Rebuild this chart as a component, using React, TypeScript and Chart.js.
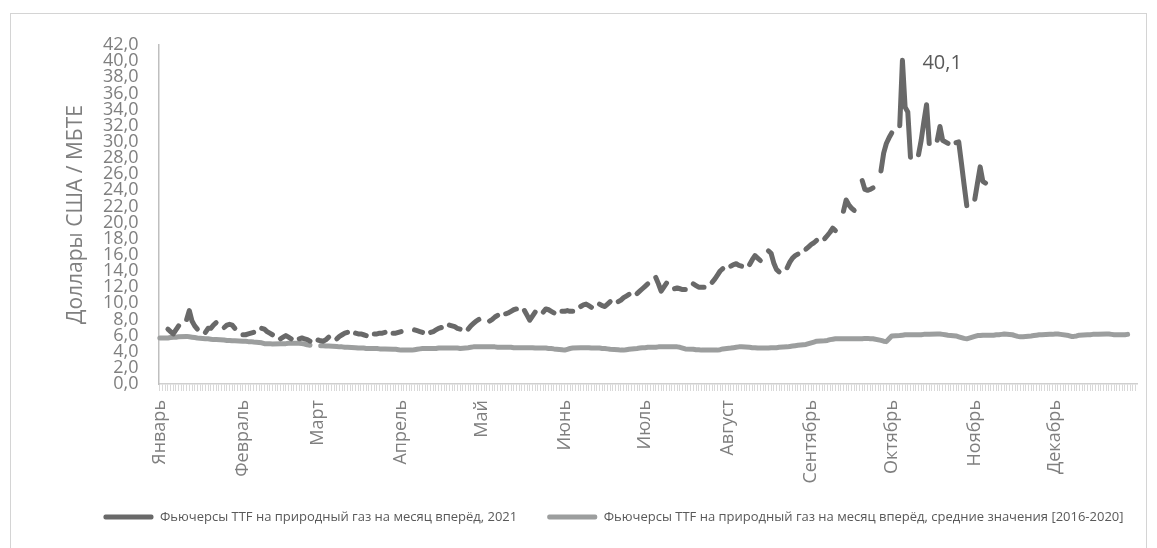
import React, { useEffect, useRef } from 'react';
import { Chart, registerables } from 'chart.js';

Chart.register(...registerables);

// ---------- DATA ----------
const monthNames = ['Январь', 'Февраль', 'Март', 'Апрель', 'Май', 'Июнь', 'Июль', 'Август', 'Сентябрь', 'Октябрь', 'Ноябрь', 'Декабрь'];
const monthStartDays = [0, 31, 59, 90, 120, 151, 181, 212, 243, 273, 304, 334];
const daysInYear = 365;

const seriesLabels = [
  'Фьючерсы TTF на природный газ на месяц вперёд, 2021',
  'Фьючерсы TTF на природный газ на месяц вперёд, средние значения [2016-2020]',
];

// 2021: value for Fri 1 Jan, then Mon..Fri weeks starting Mon 4 Jan (null = no quote)
const ttf2021Jan1: number | null = null;
const ttf2021Weeks: (number | null)[][] = [
  [6.8, 6.5, 6.2, 6.7, 7.2],
  [8.0, 9.1, 7.8, 7.2, 6.8],
  [6.4, 6.9, 6.9, 7.3, 7.6],
  [7.0, 7.3, 7.4, 7.3, 6.9],
  [6.1, 6.1, 6.2, 6.3, 6.4],
  [6.9, 6.8, 6.5, 6.3, 6.1],
  [5.6, 5.8, 6.0, 5.8, 5.6],
  [5.6, 5.7, 5.6, 5.5, 5.3],
  [5.45, 5.35, 5.3, 5.5, 5.8],
  [5.6, 5.9, 6.1, 6.3, 6.4],
  [6.3, 6.2, 6.2, 6.1, 6.0],
  [6.2, 6.2, 6.3, 6.3, 6.4],
  [6.3, 6.3, 6.4, 6.5, null],
  [null, 6.7, 6.6, 6.5, 6.4],
  [6.4, 6.5, 6.7, 6.9, 7.0],
  [7.3, 7.2, 7.1, 6.9, 6.8],
  [6.8, 7.2, 7.5, 7.8, 8.0],
  [null, 7.8, 8.0, 8.3, 8.5],
  [8.7, 8.8, 9.0, 9.2, 9.3],
  [9.1, 8.5, 7.9, 8.4, 8.9],
  [8.9, 9.3, 9.2, 9.0, 8.8],
  [9.0, 9.0, 9.1, 9.0, 9.0],
  [9.6, 9.8, 9.9, 9.7, 9.5],
  [9.9, 9.7, 9.6, 9.9, 10.2],
  [10.2, 10.4, 10.7, 10.9, 11.1],
  [11.2, 11.5, 11.8, 12.1, 12.4],
  [13.2, 12.4, 11.5, 12.0, 12.5],
  [11.8, 11.9, 11.8, 11.7, 11.7],
  [12.4, 12.2, 12.0, 12.0, 12.0],
  [12.6, 13.0, 13.5, 14.0, 14.3],
  [14.6, 14.8, 14.9, 14.7, 14.6],
  [14.8, 15.4, 15.9, 15.6, 15.3],
  [16.5, 16.2, 15.0, 14.2, 13.9],
  [14.4, 15.1, 15.6, 15.9, 16.1],
  [16.7, 17.0, 17.3, 17.5, 17.8],
  [18.0, 18.4, 18.8, 19.3, 19.0],
  [21.4, 22.8, 22.2, 21.8, 21.5],
  [25.2, 24.1, 24.0, 24.1, 24.3],
  [26.4, 28.6, 29.8, 30.5, 31.1],
  [32.0, 40.1, 34.3, 33.7, 28.1],
  [28.4, 30.2, 32.5, 34.6, 29.8],
  [30.2, 31.9, 30.2, 30.0, 29.8],
  [29.9, 30.0, 27.4, 24.7, 22.1],
  [22.9, 24.9, 26.9, 25.1, 24.9],
];

// 2016-2020 average: Fri 1 Jan, then Mon..Fri weeks from Mon 4 Jan
const avgJan1: number | null = 5.7;
const avgWeeks: (number | null)[][] = [
  [5.7, 5.75, 5.8, 5.8, 5.85],
  [5.9, 5.85, 5.8, 5.75, 5.7],
  [5.6, 5.6, 5.55, 5.5, 5.5],
  [5.45, 5.4, 5.4, 5.35, 5.35],
  [5.3, 5.3, 5.25, 5.25, 5.2],
  [5.1, 5.0, 5.0, 5.0, 4.95],
  [5.0, 5.0, 5.0, 5.05, 5.05],
  [5.05, 5.0, 4.95, 4.85, 4.8],
  [null, 4.75, 4.75, 4.7, 4.7],
  [4.65, 4.6, 4.6, 4.55, 4.55],
  [4.5, 4.45, 4.45, 4.45, 4.4],
  [4.4, 4.4, 4.35, 4.35, 4.35],
  [4.3, 4.3, 4.25, 4.2, 4.2],
  [4.2, 4.25, 4.3, 4.35, 4.4],
  [4.4, 4.4, 4.4, 4.45, 4.45],
  [4.45, 4.45, 4.45, 4.45, 4.4],
  [4.5, 4.55, 4.6, 4.6, 4.6],
  [4.6, 4.6, 4.6, 4.6, 4.55],
  [4.55, 4.55, 4.55, 4.5, 4.5],
  [4.5, 4.5, 4.5, 4.5, 4.45],
  [4.45, 4.45, 4.4, 4.4, 4.35],
  [4.25, 4.2, 4.3, 4.4, 4.45],
  [4.5, 4.5, 4.5, 4.5, 4.45],
  [4.45, 4.4, 4.4, 4.35, 4.3],
  [4.25, 4.2, 4.2, 4.25, 4.3],
  [4.4, 4.45, 4.5, 4.5, 4.55],
  [4.55, 4.6, 4.6, 4.6, 4.6],
  [4.6, 4.6, 4.55, 4.45, 4.35],
  [4.3, 4.25, 4.25, 4.2, 4.2],
  [4.2, 4.2, 4.2, 4.25, 4.35],
  [4.45, 4.5, 4.55, 4.6, 4.6],
  [4.55, 4.5, 4.5, 4.45, 4.45],
  [4.45, 4.5, 4.5, 4.5, 4.55],
  [4.6, 4.65, 4.7, 4.75, 4.8],
  [4.9, 5.0, 5.1, 5.2, 5.3],
  [5.35, 5.4, 5.5, 5.55, 5.6],
  [5.6, 5.6, 5.6, 5.6, 5.6],
  [5.6, 5.65, 5.65, 5.6, 5.6],
  [5.4, 5.3, 5.25, 5.6, 5.95],
  [6.0, 6.05, 6.1, 6.1, 6.1],
  [6.1, 6.1, 6.15, 6.15, 6.15],
  [6.2, 6.2, 6.15, 6.1, 6.05],
  [5.95, 5.85, 5.75, 5.65, 5.6],
  [5.9, 6.0, 6.0, 6.05, 6.05],
  [6.05, 6.1, 6.1, 6.15, 6.2],
  [6.1, 6.0, 5.9, 5.85, 5.85],
  [5.95, 6.0, 6.05, 6.1, 6.1],
  [6.15, 6.15, 6.2, 6.2, 6.15],
  [6.0, 5.9, 5.9, 5.95, 6.05],
  [6.1, 6.1, 6.15, 6.15, 6.15],
  [6.2, 6.2, 6.15, 6.1, 6.1],
  [6.1, 6.15, null, null, null],
];

const yMin = 0;
const yMax = 42;
const yStep = 2;

// ---------- BUILD TABLES ----------
const categories: string[] = Array.from({ length: daysInYear }, (_, i) => {
  const d = new Date(Date.UTC(2021, 0, 1 + i));
  return String(d.getUTCDate()).padStart(2, '0') + '.' + String(d.getUTCMonth() + 1).padStart(2, '0');
});

function toDaily(first: number | null, weeks: (number | null)[][]): (number | null)[] {
  const out: (number | null)[] = new Array(daysInYear).fill(null);
  out[0] = first;
  weeks.forEach((w, k) => {
    w.forEach((v, d) => {
      const i = 3 + 7 * k + d;
      if (i < daysInYear) out[i] = v;
    });
  });
  return out;
}

const ttf2021Daily = toDaily(ttf2021Jan1, ttf2021Weeks);
const avgDaily = toDaily(avgJan1, avgWeeks);
const avgPoints = avgDaily
  .map((v, i) => (v === null ? null : { x: categories[i], y: v }))
  .filter((p) => p !== null) as { x: string; y: number }[];

const monthLabelAt: Record<number, string> = {};
monthStartDays.forEach((d, m) => (monthLabelAt[d] = monthNames[m]));

const fmt = (v: number) => v.toFixed(1).replace('.', ',');

const FONT = '"Open Sans", "DejaVu Sans", sans-serif';

const peakPlugin = {
  id: 'peakLabel',
  afterDatasetsDraw(chart: any) {
    let peakIdx = 0;
    ttf2021Daily.forEach((v, i) => {
      if (v !== null && v > (ttf2021Daily[peakIdx] ?? -Infinity)) peakIdx = i;
    });
    const val = ttf2021Daily[peakIdx] as number;
    const x = chart.scales.x.getPixelForValue(peakIdx);
    const y = chart.scales.y.getPixelForValue(val);
    const ctx = chart.ctx;
    ctx.save();
    ctx.font = `20px ${FONT}`;
    ctx.fillStyle = '#595959';
    ctx.textBaseline = 'middle';
    ctx.textAlign = 'left';
    ctx.fillText(fmt(val), x + 20, y + 3);
    ctx.restore();
  },
};

const legendShiftPlugin = {
  id: 'legendShift',
  afterLayout(chart: any) {
    if (chart.legend) {
      chart.legend.left += 35;
      chart.legend.right += 35;
      chart.legend.top -= 7.5;
      chart.legend.bottom -= 7.5;
    }
  },
};

export default function App() {
  const ref = useRef<HTMLCanvasElement>(null);

  useEffect(() => {
    if (!ref.current) return;
    const chart = new Chart(ref.current, {
      type: 'line',
      data: {
        labels: categories,
        datasets: [
          {
            label: seriesLabels[0],
            data: ttf2021Daily,
            borderColor: '#696969',
            backgroundColor: '#696969',
            borderWidth: 5,
            pointRadius: 0,
            pointHoverRadius: 0,
            spanGaps: false,
            borderCapStyle: 'round',
            borderJoinStyle: 'round',
            tension: 0,
          },
          {
            label: seriesLabels[1],
            data: avgPoints as any,
            borderColor: '#9c9e9e',
            backgroundColor: '#9c9e9e',
            borderWidth: 5,
            pointRadius: 0,
            pointHoverRadius: 0,
            spanGaps: 3,
            borderCapStyle: 'round',
            borderJoinStyle: 'round',
            tension: 0,
          },
        ],
      },
      options: {
        responsive: false,
        animation: false,
        layout: { padding: { left: 20, right: 20, top: 45, bottom: 7 } },
        plugins: {
          tooltip: { enabled: false },
          legend: {
            position: 'bottom',
            labels: {
              boxWidth: 50,
              boxHeight: 5,
              padding: 30,
              color: '#595959',
              font: { family: FONT, size: 13 },
              useBorderRadius: true,
              borderRadius: 2,
              generateLabels: (c: any) =>
                (Chart.defaults.plugins.legend.labels.generateLabels as any)(c).map((l: any) => ({
                  ...l,
                  fillStyle: l.strokeStyle,
                  lineWidth: 0,
                  lineDash: [],
                  borderRadius: 2,
                })),
            },
          },
        },
        scales: {
          x: {
            type: 'category',
            offset: true,
            afterFit: (s: any) => {
              s.height = 104;
              s.paddingLeft = 0;
              s.paddingRight = 0;
            },
            grid: {
              display: true,
              drawOnChartArea: false,
              drawTicks: true,
              tickLength: 7,
              color: '#d9d9d9',
              lineWidth: 1,
            },
            border: { display: true, color: '#d0d0d0', width: 1.5 },
            ticks: {
              autoSkip: false,
              maxRotation: 90,
              minRotation: 90,
              padding: 9,
              color: '#7f7f7f',
              font: { family: FONT, size: 18 },
              callback: (_v: any, i: number) => monthLabelAt[i] ?? '',
            },
          },
          y: {
            min: yMin,
            max: yMax,
            afterFit: (s: any) => {
              s.width = 138.5;
            },
            grid: { display: true, drawOnChartArea: false, drawTicks: false },
            border: { display: true, color: '#bfbfbf', width: 1.5 },
            ticks: {
              stepSize: yStep,
              autoSkip: false,
              padding: 20,
              color: '#7f7f7f',
              font: { family: FONT, size: 18, lineHeight: 0.8 },
              callback: (v: any) => fmt(Number(v)),
            },
            title: {
              display: true,
              text: 'Доллары США / МБТЕ',
              color: '#7f7f7f',
              font: { family: FONT, size: 21 },
              padding: { top: 43, bottom: 4 },
            },
          },
        },
      },
      plugins: [peakPlugin, legendShiftPlugin],
    });
    return () => chart.destroy();
  }, []);

  return (
    <div style={{ position: 'fixed', left: 0, top: 0, width: 1157, height: 548, background: '#fff' }}>
      <div
        style={{
          position: 'absolute',
          left: 10,
          top: 13,
          width: 1137,
          height: 600,
          border: '1px solid #d4d4d4',
          boxSizing: 'border-box',
        }}
      />
      <canvas ref={ref} width={1157} height={548} style={{ position: 'absolute', left: 0, top: 0 }} />
    </div>
  );
}
